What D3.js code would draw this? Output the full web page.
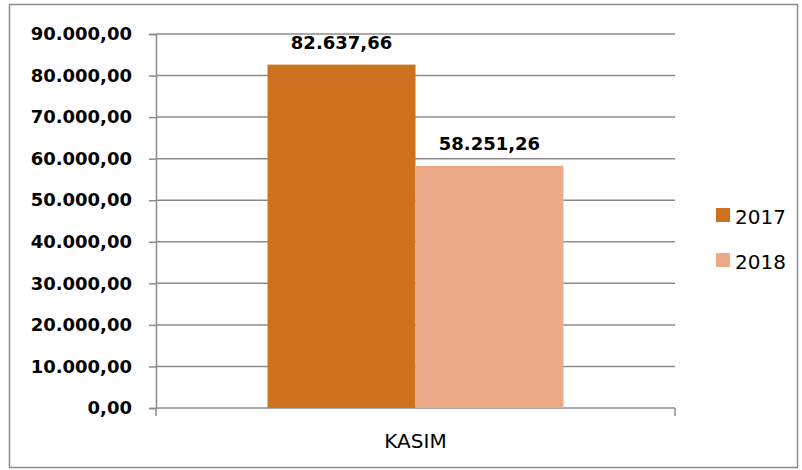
<!DOCTYPE html>
<html>
<head>
<meta charset="utf-8">
<script src="https://cdnjs.cloudflare.com/ajax/libs/d3/7.8.5/d3.min.js"></script>
<style>
  body { margin: 0; background: #fff; }
  text { font-family: "DejaVu Sans", sans-serif; }
</style>
</head>
<body>
<svg id="chart"></svg>
<script>
// data
const categories = ["KASIM"];
const series = ["2017", "2018"];
const values = [82637.66, 58251.26];
const yTicks = [0, 10000, 20000, 30000, 40000, 50000, 60000, 70000, 80000, 90000];
const colors = ["#CC721F", "#EBAB87"];

const W = 802, H = 470;
const margin = { top: 34, left: 156, right: 127, bottom: 62 };
const width = W - margin.left - margin.right;
const height = H - margin.top - margin.bottom;

const fmt = (v) => {
  const s = v.toFixed(2).split(".");
  return s[0].replace(/\B(?=(\d{3})+(?!\d))/g, ".") + "," + s[1];
};

const svgRoot = d3.select("#chart").attr("width", W).attr("height", H);

// outer frame
svgRoot.append("rect")
  .attr("x", 9.5).attr("y", 4.5)
  .attr("width", 788).attr("height", 463)
  .attr("fill", "none").attr("stroke", "#8c8c8c").attr("stroke-width", 1.5);

const svg = svgRoot.append("g")
  .attr("transform", "translate(" + margin.left + "," + margin.top + ")");

const x = d3.scaleBand().domain(categories).range([0, width]).paddingOuter(0.377).paddingInner(0);
const xs = d3.scaleBand().domain(series).range([0, x.bandwidth()]);
const y = d3.scaleLinear().domain([0, 90000]).range([height, 0]);

// gridlines
svg.append("g")
  .selectAll("line")
  .data(yTicks.slice(1))
  .enter()
  .append("line")
  .attr("x1", 0).attr("x2", width)
  .attr("y1", (d) => y(d)).attr("y2", (d) => y(d))
  .attr("stroke", "#8c8c8c").attr("stroke-width", 1.5);

// y axis
const yAxis = d3.axisLeft(y).tickValues(yTicks).tickSize(7).tickPadding(17).tickFormat(fmt);
const gy = svg.append("g").call(yAxis);
gy.select(".domain").attr("stroke", "#8c8c8c").attr("stroke-width", 1.5);
gy.selectAll(".tick line").attr("stroke", "#8c8c8c").attr("stroke-width", 1.5);
gy.selectAll(".tick text")
  .attr("font-family", "DejaVu Sans, sans-serif")
  .attr("font-size", 18).attr("font-weight", "bold").attr("fill", "#000");

// x axis
const gx = svg.append("g").attr("transform", "translate(0," + height + ")");
gx.append("line").attr("x1", 0).attr("x2", width).attr("y1", 0).attr("y2", 0)
  .attr("stroke", "#8c8c8c").attr("stroke-width", 1.5);
gx.selectAll(".xtick").data([0, width]).enter().append("line")
  .attr("x1", (d) => d).attr("x2", (d) => d).attr("y1", 0).attr("y2", 8)
  .attr("stroke", "#8c8c8c").attr("stroke-width", 1.5);
gx.selectAll(".xlabel").data(categories).enter().append("text")
  .attr("x", (d) => x(d) + x.bandwidth() / 2)
  .attr("y", 40)
  .attr("text-anchor", "middle")
  .attr("font-size", 20).attr("fill", "#000")
  .text((d) => d);

// bars
const rows = series.map((s, i) => ({ s: s, v: values[i], c: colors[i] }));
const gb = svg.append("g").attr("transform", "translate(" + x(categories[0]) + ",0)");
gb.selectAll("rect").data(rows).enter().append("rect")
  .attr("x", (d) => xs(d.s))
  .attr("width", xs.bandwidth())
  .attr("y", (d) => y(d.v))
  .attr("height", (d) => height - y(d.v))
  .attr("fill", (d) => d.c);

// value labels
gb.selectAll("text").data(rows).enter().append("text")
  .attr("x", (d) => xs(d.s) + xs.bandwidth() / 2)
  .attr("y", (d) => y(d.v) - 16)
  .attr("text-anchor", "middle")
  .attr("font-size", 18).attr("font-weight", "bold").attr("fill", "#000")
  .text((d) => fmt(d.v));

// legend
const lg = svgRoot.append("g").attr("transform", "translate(716,208)");
const li = lg.selectAll("g").data(rows).enter().append("g")
  .attr("transform", (d, i) => "translate(0," + i * 45 + ")");
li.append("rect").attr("width", 14).attr("height", 14).attr("fill", (d) => d.c);
li.append("text").attr("x", 19).attr("y", 15.5)
  .attr("font-size", 20).attr("fill", "#000").text((d) => d.s);
</script>
</body>
</html>
